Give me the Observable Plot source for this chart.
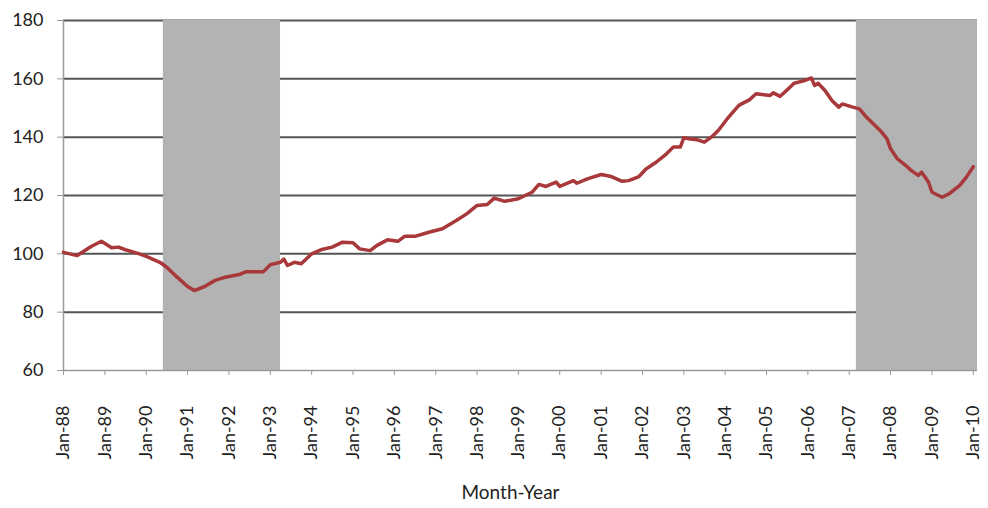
<!DOCTYPE html>
<html>
<head>
<meta charset="utf-8">
<script src="https://cdn.jsdelivr.net/npm/d3@7"></script>
<script src="https://cdn.jsdelivr.net/npm/@observablehq/plot@0.6"></script>
<style>
  html, body { margin: 0; padding: 0; background: #fff; }
  #chart { width: 988px; height: 508px; }
</style>
</head>
<body>
<div id="chart"></div>
<script>
const months = [
  "1988-01","1988-05","1988-09","1988-12","1989-03","1989-05","1989-07","1989-11",
  "1990-01","1990-05","1990-07","1990-10","1991-01","1991-03","1991-06","1991-09",
  "1991-12","1992-04","1992-06","1992-11","1993-01","1993-04","1993-05","1993-06",
  "1993-08","1993-10","1994-01","1994-04","1994-07","1994-10","1995-01","1995-03",
  "1995-06","1995-08","1995-11","1996-02","1996-04","1996-07","1996-11","1997-03",
  "1997-07","1997-10","1998-01","1998-04","1998-06","1998-09","1999-01","1999-05",
  "1999-07","1999-09","1999-12","2000-01","2000-05","2000-06","2000-09","2001-01",
  "2001-04","2001-07","2001-09","2001-12","2002-02","2002-05","2002-08","2002-10",
  "2002-12","2003-01","2003-03","2003-05","2003-07","2003-09","2003-11","2004-02",
  "2004-05","2004-08","2004-10","2005-02","2005-03","2005-05","2005-07","2005-09",
  "2005-12","2006-02","2006-03","2006-04","2006-06","2006-08","2006-10","2006-11",
  "2007-02","2007-04","2007-06","2007-08","2007-10","2007-12","2008-01","2008-03",
  "2008-06","2008-07","2008-09","2008-10","2008-12","2009-01","2009-04","2009-06",
  "2009-09","2009-11","2010-01"
];
const values = [
  100.5, 99.4, 102.5, 104.3, 102.1, 102.3, 101.4, 100.0,
  99.1, 97.1, 95.4, 92.0, 88.8, 87.4, 88.8, 90.9,
  92.0, 92.9, 93.9, 93.9, 96.3, 97.1, 98.2, 96.0,
  97.1, 96.6, 100.0, 101.5, 102.3, 104.0, 103.8, 101.7,
  101.1, 102.9, 104.8, 104.3, 106.0, 106.0, 107.4, 108.6,
  111.4, 113.7, 116.6, 116.9, 119.1, 118.0, 118.9, 121.1,
  123.8, 123.1, 124.6, 123.1, 125.1, 124.2, 125.7, 127.2,
  126.5, 124.9, 125.1, 126.5, 129.1, 131.4, 134.3, 136.6,
  136.6, 139.8, 139.4, 139.1, 138.3, 140.0, 142.3, 146.9,
  150.9, 152.8, 154.9, 154.3, 155.2, 154.0, 156.2, 158.5,
  159.4, 160.3, 157.7, 158.5, 156.0, 152.6, 150.3, 151.4,
  150.3, 149.7, 146.9, 144.6, 142.3, 139.4, 136.0, 132.6,
  129.7, 128.6, 126.9, 128.0, 124.6, 121.1, 119.4, 120.6,
  123.4, 126.3, 129.9
];
const recessionStart = ["1990-06-01", "2007-03-05"];
const recessionEnd = ["1993-04-01", "2010-02-07"];
const xTickLabels = [
  "Jan-88","Jan-89","Jan-90","Jan-91","Jan-92","Jan-93","Jan-94","Jan-95",
  "Jan-96","Jan-97","Jan-98","Jan-99","Jan-00","Jan-01","Jan-02","Jan-03",
  "Jan-04","Jan-05","Jan-06","Jan-07","Jan-08","Jan-09","Jan-10"
];
const yTicks = [60, 80, 100, 120, 140, 160, 180];
const xLabel = "Month-Year";

const parseMonth = d3.utcParse("%Y-%m");
const parseDay = d3.utcParse("%Y-%m-%d");
const parseTick = d3.utcParse("%b-%y");

const data = months.map((m, i) => ({date: parseMonth(m), value: values[i]}));
const recessions = recessionStart.map((s, i) => ({start: parseDay(s), end: parseDay(recessionEnd[i])}));
const tickDates = xTickLabels.map(parseTick);
const xDomain = [parseDay("1988-01-01"), parseDay("2010-02-07")];

const chart = Plot.plot({
  width: 988,
  height: 508,
  marginLeft: 63,
  marginRight: 11,
  marginTop: 20,
  marginBottom: 138,
  style: {fontFamily: "Lato, 'Open Sans', sans-serif", background: "#fff", color: "#222"},
  x: {type: "utc", domain: xDomain},
  y: {domain: [60, 180]},
  marks: [
    Plot.ruleY(yTicks.slice(1), {stroke: "#555", strokeWidth: 2}),
    Plot.rect(recessions, {x1: "start", x2: "end", fill: "#b3b3b3"}),
    Plot.ruleX([xDomain[0]], {stroke: "#9a9a9a", strokeWidth: 1.5}),
    Plot.ruleY([60], {stroke: "#9a9a9a", strokeWidth: 1.5}),
    Plot.axisY({ticks: yTicks, tickSize: 6, tickPadding: 14, fontSize: 18, label: null, stroke: "#9a9a9a", strokeOpacity: 1}),
    Plot.axisX({ticks: tickDates, tickFormat: d3.utcFormat("%b-%y"), tickRotate: -90, tickSize: 5, tickPadding: 30, fontSize: 18, label: null, stroke: "#9a9a9a", strokeOpacity: 1}),
    Plot.line(data, {x: "date", y: "value", stroke: "#a8383a", strokeWidth: 3.5, strokeLinejoin: "round"}),
    Plot.text([xLabel], {frameAnchor: "bottom", dy: 128, dx: -10, fontSize: 19, fill: "#222"})
  ]
});
document.getElementById("chart").appendChild(chart);
</script>
</body>
</html>
